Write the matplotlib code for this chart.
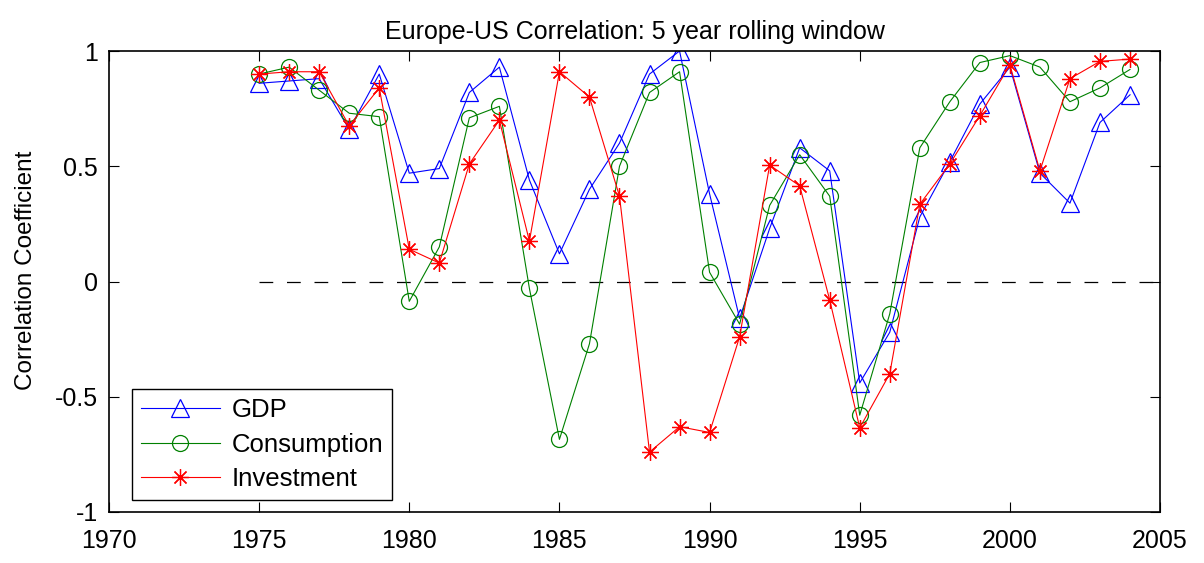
import matplotlib
matplotlib.use("Agg")
import matplotlib.pyplot as plt

years = list(range(1975, 2005))
gdp = [0.86, 0.87, 0.88, 0.66, 0.90, 0.47, 0.49, 0.82, 0.93, 0.44,
       0.12, 0.40, 0.60, 0.90, 1.00, 0.38, -0.16, 0.23, 0.58, 0.48,
       -0.44, -0.22, 0.28, 0.52, 0.77, 0.93, 0.47, 0.34, 0.69, 0.81]
consumption = [0.90, 0.93, 0.83, 0.73, 0.715, -0.086, 0.15, 0.71, 0.76, -0.03,
               -0.685, -0.27, 0.50, 0.82, 0.91, 0.04, -0.185, 0.33, 0.55, 0.37,
               -0.58, -0.14, 0.58, 0.78, 0.95, 0.98, 0.93, 0.78, 0.84, 0.92]
investment = [0.90, 0.91, 0.91, 0.675, 0.84, 0.14, 0.08, 0.51, 0.70, 0.175,
              0.91, 0.80, 0.37, -0.74, -0.63, -0.655, -0.24, 0.505, 0.415, -0.08,
              -0.635, -0.40, 0.335, 0.51, 0.72, 0.94, 0.48, 0.88, 0.955, 0.965]
xticks = [1970, 1975, 1980, 1985, 1990, 1995, 2000, 2005]
yticks = [-1, -0.5, 0, 0.5, 1]
ytick_labels = ["-1", "-0.5", "0", "0.5", "1"]

plt.rcParams['font.family'] = ['Liberation Sans', 'DejaVu Sans']

fig = plt.figure(figsize=(12.04, 5.63), dpi=100)
ax = fig.add_axes([0.0905, 0.0906, 0.8730, 0.8188])

ax.plot([1975, 2005], [0, 0], color='black', lw=0.9, dashes=(11, 11))

lw = 0.8
ax.plot(years, gdp, color='#0000ff', lw=lw, marker='^', ms=12.5, mfc='none',
        mec='#0000ff', mew=0.9, label='GDP')
ax.plot(years, consumption, color='#008000', lw=lw, marker='o', ms=11.5,
        mfc='none', mec='#008000', mew=0.9, label='Consumption')
ax.plot(years, investment, color='#ff0000', lw=lw, marker=(8, 2, 0), ms=12,
        mec='#ff0000', mew=0.9, label='Investment')

ax.set_xlim(1970, 2005)
ax.set_ylim(-1, 1)
ax.set_xticks(xticks)
ax.set_xticklabels([str(x) for x in xticks])
ax.set_yticks(yticks)
ax.set_yticklabels(ytick_labels)
ax.tick_params(direction='in', length=7, width=0.8, labelsize=18, top=True,
               right=True, colors='black')
ax.tick_params(axis='x', pad=12)
ax.tick_params(axis='y', pad=8)
for s in ax.spines.values():
    s.set_linewidth(1.2)

ax.set_title('Europe-US Correlation: 5 year rolling window', fontsize=18, pad=9)
ax.set_ylabel('Correlation Coefficient', fontsize=17.5)
ax.yaxis.set_label_coords(-0.068, 0.525)

leg = ax.legend(loc='lower left', bbox_to_anchor=(0.0216, 0.026), fontsize=18.5,
                handlelength=3.1, frameon=True, fancybox=False, framealpha=1,
                edgecolor='black', borderpad=0.35, labelspacing=0.4,
                handletextpad=0.45, borderaxespad=0)
leg.get_frame().set_linewidth(1.0)

fig.savefig('out.png', dpi=100)
